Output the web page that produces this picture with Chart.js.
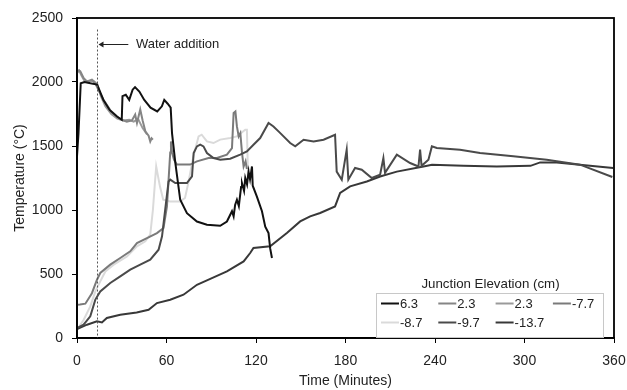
<!DOCTYPE html>
<html><head><meta charset="utf-8">
<script src="https://cdn.jsdelivr.net/npm/chart.js@4/dist/chart.umd.min.js"></script>
<style>html,body{margin:0;padding:0;background:#fff}#wrap{position:relative;width:627px;height:390px}</style>
</head><body><div id="wrap"><canvas id="c" width="627" height="390"></canvas></div>
<script>
// ---- data (time in minutes, temperature in °C) ----
const xTicks = [0, 60, 120, 180, 240, 300, 360];
const yTicks = [0, 500, 1000, 1500, 2000, 2500];
const seriesLabels = ["6.3", "2.3", "2.3", "-7.7", "-8.7", "-9.7", "-13.7"];
const waterAdditionTime = 13.5;
const waterLabel = "Water addition";
const legendTitle = "Junction Elevation (cm)";

const t63 = [0,1,2.5,5,9,13.5,17.7,22,26.8,30,30.5,32.7,35,37.3,38.9,41.8,45.1,49.3,53.8,56.9,58.5,60.8,62.8,63.7,65.9,69.2,73.7,80.4,87.1,96,100.5,103.9,105,106,107.2,108.5,110,110.6,112,112.8,114,115,116,117.3,117.8,120.6,124,126.2,128.4,129.5,130.7];
const T63 = [1420,1600,1990,2000,1990,1980,1860,1780,1730,1705,1890,1900,1860,1940,1960,1925,1860,1800,1770,1810,1860,1830,1800,1600,1370,1080,975,910,885,877,910,990,950,1040,1080,1030,1180,1210,1150,1250,1200,1300,1240,1340,1190,1105,990,870,820,700,625];

const t23a = [0,2.2,4.5,6.7,10,12.2,17.8,22.3,26.8,30,33.4,36.8,39,40.2,42.4,44,45.8,48,49.1,50,50.9];
const T23a = [2095,2083,2030,2005,2018,1990,1860,1780,1730,1705,1690,1700,1745,1680,1785,1700,1615,1580,1535,1560,1550];

const t23b = [0,1.5,3,5,8,11,13.5,16,19,23,27,31,35,38,41,44,47];
const T23b = [2070,2090,2050,2010,2005,2010,1985,1890,1810,1750,1715,1700,1705,1690,1710,1640,1590];

const tm77 = [0,2,5.6,10,13.4,15.6,22.3,29,35.7,40.2,46.9,53.6,58,60.3,61.4,62.5,63,63.7,65,66.9,75.8,80.4,88.2,93.8,100.5,103.9,105,106.2,107.2,108.4,109.5,110.6,111.7,113,113.9];
const Tm77 = [260,262,268,350,455,508,573,625,677,742,781,820,860,1028,1237,1450,1536,1450,1393,1355,1355,1380,1406,1406,1432,1484,1758,1770,1653,1575,1601,1450,1340,1380,1320];

const tm87 = [0,4.5,8.9,12.3,15.6,19,24.6,33.5,40.2,45.8,49.1,50.9,52.4,53.1,55.6,57.8,62.3,69,72.4,74.6,78,81.5,83.6,87.1,91.5,96,102.7,107.2,112.8,113.9,114.5,115.6];
const Tm87 = [65,143,247,364,442,520,573,637,716,755,807,1002,1237,1340,1185,1080,1067,1067,1094,1210,1418,1575,1588,1536,1523,1550,1562,1575,1627,1627,1340,1310];

const tm97 = [0,4.4,8.9,12.3,15.6,22.3,29,35.7,42.4,49.1,54.7,57,59.9,61.4,62.5,65.9,73.7,77.1,78.2,80.4,82.6,84.8,87.1,91.5,96,102.7,109.4,113.9,118.3,122.8,128.4,131.7,135.1,142.9,146.3,151.9,158.6,165.3,173,174.1,177.5,180.8,181.9,186.4,190.9,197.6,203.2,205.4,206.5,214.4,223.3,228.9,230,231,235.6,237.9,241.2,256.8,270.2,292.5,314.9,337.2,358.9];
const Tm97 = [78,104,169,300,364,430,481,534,573,612,690,794,1080,1223,1237,1210,1210,1262,1445,1497,1510,1497,1445,1406,1393,1400,1432,1458,1510,1562,1680,1653,1614,1523,1497,1549,1536,1549,1588,1300,1237,1471,1237,1328,1315,1250,1276,1406,1290,1432,1367,1340,1471,1345,1393,1497,1484,1471,1445,1419,1393,1354,1258];

const tm137 = [0,6.7,13.4,16.7,20,29,40,48,53.6,62.5,71.4,80.4,87.1,100.5,111.7,116.1,118.3,129.5,140.7,149.6,156.3,163,173,176.4,183.1,194.3,203.2,214.4,232.3,238,259,281.4,304,310.5,321.6,359.4];
const Tm137 = [70,104,130,122,156,182,200,221,273,299,338,416,450,520,598,664,703,716,820,911,950,977,1028,1133,1185,1223,1262,1300,1340,1354,1346,1340,1345,1372,1372,1328];

const seriesColors = ["#111111", "#858585", "#9a9a9a", "#7a7a7a", "#dadada", "#4a4a4a", "#383838"];

const FONT = "'Liberation Sans', Arial, sans-serif";
const pts = (t, T) => t.map((x, i) => ({x: x, y: T[i]}));
const allT = [t63, t23a, t23b, tm77, tm87, tm97, tm137];
const allY = [T63, T23a, T23b, Tm77, Tm87, Tm97, Tm137];

const datasets = seriesLabels.map((lab, i) => ({
  label: lab,
  data: pts(allT[i], allY[i]),
  borderColor: seriesColors[i],
  backgroundColor: seriesColors[i],
  borderWidth: 2,
  pointRadius: 0,
  tension: 0,
  fill: false
}));
const order = [4, 2, 1, 3, 6, 5, 0];
order.forEach((idx, k) => { datasets[idx].order = 7 - k; });

const extras = {
  id: 'extras',
  afterDatasetsDraw(chart) {
    const {ctx, chartArea: a, scales: {x, y}} = chart;
    ctx.save();
    ctx.strokeStyle = '#000'; ctx.lineWidth = 1.8;
    ctx.strokeRect(a.left, a.top, a.right - a.left, a.bottom - a.top);
    const wx = Math.round(x.getPixelForValue(waterAdditionTime)) + 0.5;
    ctx.strokeStyle = '#555'; ctx.lineWidth = 1; ctx.setLineDash([2, 2]);
    ctx.beginPath(); ctx.moveTo(wx, y.getPixelForValue(2410)); ctx.lineTo(wx, a.bottom); ctx.stroke();
    ctx.setLineDash([]);
    const ay = Math.round(y.getPixelForValue(2300)) + 0.5;
    const ax2 = x.getPixelForValue(34.4);
    ctx.strokeStyle = '#222'; ctx.fillStyle = '#222'; ctx.lineWidth = 1;
    ctx.beginPath(); ctx.moveTo(ax2, ay); ctx.lineTo(wx + 2, ay); ctx.stroke();
    ctx.beginPath(); ctx.moveTo(wx + 1, ay); ctx.lineTo(wx + 6, ay - 3); ctx.lineTo(wx + 6, ay + 3); ctx.closePath(); ctx.fill();
    ctx.font = '13px ' + FONT; ctx.textBaseline = 'middle'; ctx.textAlign = 'left';
    ctx.fillText(waterLabel, x.getPixelForValue(39.5), ay);
    const bx = 376, by = 293, bw = 227, bh = 44;
    ctx.fillStyle = '#fff'; ctx.fillRect(bx, by, bw, bh);
    ctx.strokeStyle = '#c8c8c8'; ctx.lineWidth = 1;
    ctx.strokeRect(bx + 0.5, by + 0.5, bw, bh);
    ctx.fillStyle = '#222'; ctx.textAlign = 'center';
    ctx.font = '13.3px ' + FONT;
    ctx.fillText(legendTitle, bx + bw / 2 + 1, by - 9);
    ctx.textAlign = 'left';
    ctx.font = '13px ' + FONT;
    seriesLabels.forEach((lab, i) => {
      const col = i % 4, row = Math.floor(i / 4);
      const lx = bx + 5 + col * 57.3, ly = by + 10.5 + row * 19;
      ctx.strokeStyle = seriesColors[i]; ctx.lineWidth = 2;
      ctx.beginPath(); ctx.moveTo(lx, ly); ctx.lineTo(lx + 18, ly); ctx.stroke();
      ctx.fillStyle = '#222';
      ctx.fillText(lab, lx + 19, ly + 0.5);
    });
    ctx.restore();
  }
};

new Chart(document.getElementById('c'), {
  type: 'line',
  data: {datasets: datasets},
  options: {
    responsive: false,
    animation: false,
    events: [],
    layout: {padding: {left: 0, right: 13, top: 18, bottom: 0}},
    plugins: {legend: {display: false}, tooltip: {enabled: false}},
    scales: {
      x: {
        type: 'linear', min: 0, max: 360,
        afterBuildTicks: s => { s.ticks = xTicks.map(v => ({value: v})); },
        afterFit: s => { s.height = 52; s.paddingLeft = 0; s.paddingRight = 0; },
        grid: {drawOnChartArea: false, drawTicks: true, tickLength: 5, color: '#000'},
        border: {display: true, color: '#000', width: 1.8},
        ticks: {color: '#222', font: {family: FONT, size: 14}, padding: 10, maxRotation: 0, callback: v => String(v)},
        title: {display: true, text: 'Time (Minutes)', color: '#222', font: {family: FONT, size: 14}, padding: {top: 0, bottom: 0}}
      },
      y: {
        type: 'linear', min: 0, max: 2500,
        afterBuildTicks: s => { s.ticks = yTicks.map(v => ({value: v})); },
        afterFit: s => { s.width = 77; s.paddingTop = 0; s.paddingBottom = 0; },
        grid: {drawOnChartArea: false, drawTicks: true, tickLength: 5, color: '#000'},
        border: {display: true, color: '#000', width: 1.8},
        ticks: {color: '#222', font: {family: FONT, size: 14}, padding: 9, callback: v => String(v)},
        title: {display: true, text: 'Temperature (°C)', color: '#222', font: {family: FONT, size: 14}, padding: {top: 12, bottom: 0}}
      }
    }
  },
  plugins: [extras]
});
</script></body></html>
